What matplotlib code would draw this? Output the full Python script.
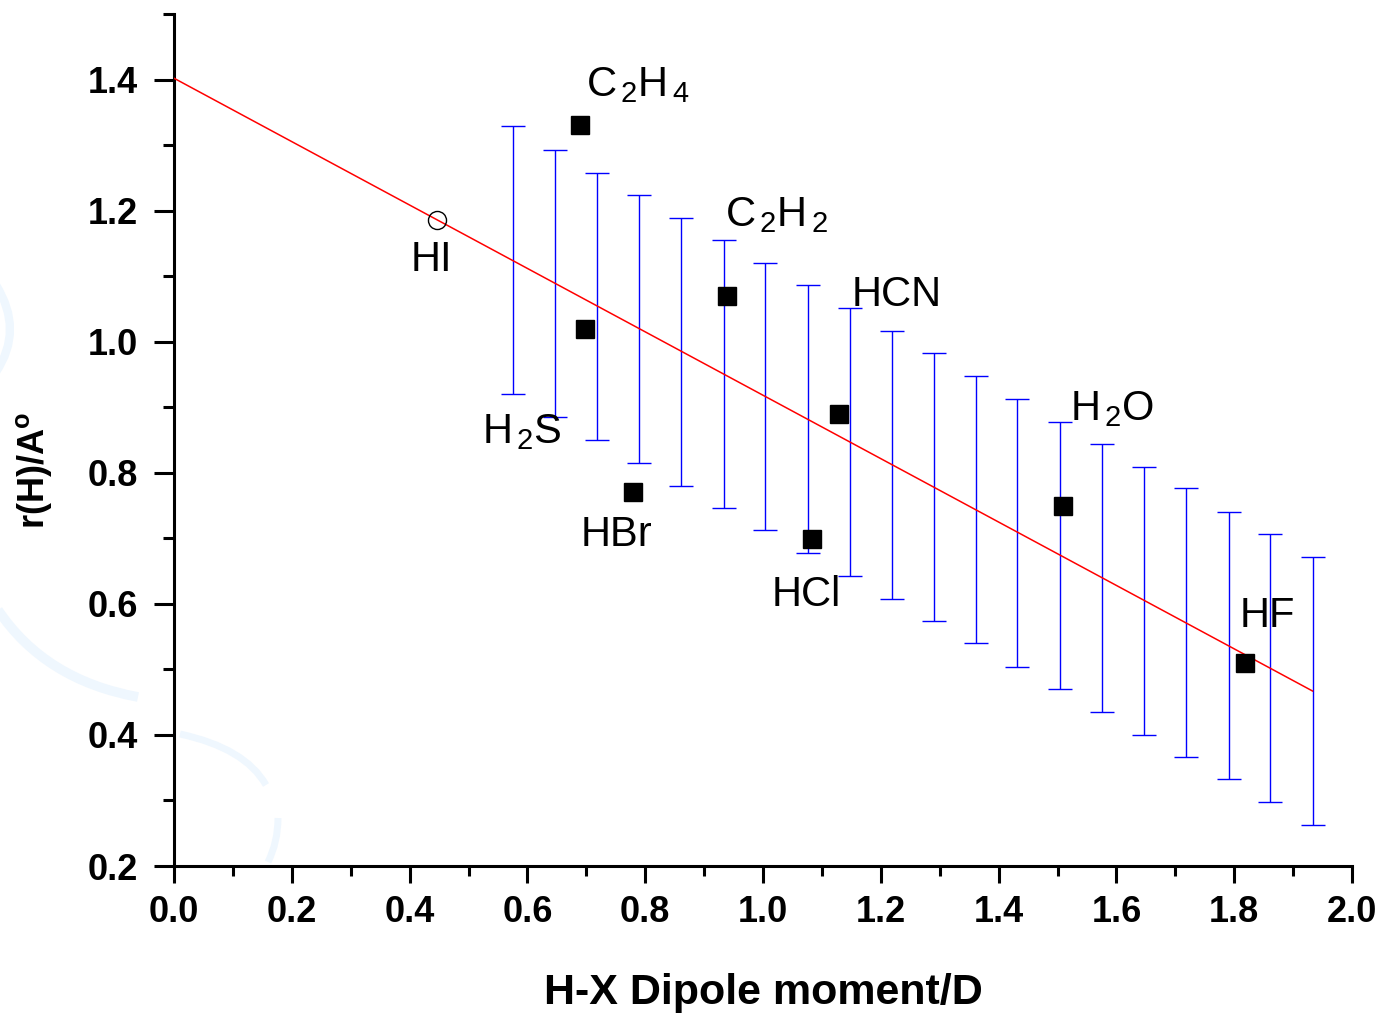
import numpy as np
import matplotlib
matplotlib.use('Agg')
import matplotlib.pyplot as plt
from matplotlib.path import Path
from matplotlib.patches import PathPatch
from matplotlib.ticker import MultipleLocator, FormatStrFormatter

plt.rcParams['font.family'] = ['Liberation Sans', 'DejaVu Sans']
plt.rcParams['mathtext.fontset'] = 'custom'
plt.rcParams['mathtext.rm'] = 'Liberation Sans'
plt.rcParams['mathtext.it'] = 'Liberation Sans:italic'
plt.rcParams['mathtext.bf'] = 'Liberation Sans:bold'

# ---------------- data ----------------
band_x = [0.575, 0.647, 0.719, 0.790, 0.861, 0.933, 1.004, 1.076, 1.147, 1.219,
          1.291, 1.362, 1.432, 1.504, 1.575, 1.647, 1.718, 1.791, 1.861, 1.933]
band_upper = [1.329, 1.293, 1.258, 1.224, 1.189, 1.155, 1.120, 1.087, 1.051, 1.017,
              0.983, 0.947, 0.913, 0.878, 0.844, 0.809, 0.776, 0.740, 0.706, 0.672]
band_lower = [0.920, 0.885, 0.850, 0.815, 0.780, 0.746, 0.712, 0.678, 0.642, 0.608,
              0.574, 0.540, 0.504, 0.470, 0.435, 0.400, 0.366, 0.332, 0.297, 0.263]

fit_x = [0.0, 1.933]
fit_y = [1.402, 0.467]

mol_names = [r'C$_{\,2}$H$_{\,4}$', r'H$_{\,2}$S', 'HBr', r'C$_{\,2}$H$_{\,2}$',
             'HCl', 'HCN', r'H$_{\,2}$O', 'HF']
mol_x = [0.689, 0.697, 0.779, 0.939, 1.083, 1.129, 1.509, 1.819]
mol_y = [1.330, 1.019, 0.770, 1.069, 0.699, 0.889, 0.750, 0.509]

hi_name = 'HI'
hi_x = [0.4465]
hi_y = [1.185]

x_label = 'H-X Dipole moment/D'
y_label = r'r(H)/A$^{\mathbf{o}}$'

# label anchor positions (left, baseline) in data coords
mol_label_pos = [(0.700, 1.374), (0.523, 0.846), (0.691, 0.689), (0.936, 1.176),
                 (1.015, 0.596), (1.151, 1.055), (1.521, 0.880), (1.810, 0.564)]
hi_label_pos = (0.401, 1.1085)

# ---------------- figure ----------------
W, H = 1384, 1015
fig = plt.figure(figsize=(W / 100, H / 100), dpi=100)
fig.patch.set_facecolor('white')

# faint background watermark arcs (pixel coords, y down)
def arc(p0, c, p1, lw):
    pts = [(p0[0] / W, 1 - p0[1] / H), (c[0] / W, 1 - c[1] / H), (p1[0] / W, 1 - p1[1] / H)]
    path = Path(pts, [Path.MOVETO, Path.CURVE3, Path.CURVE3])
    patch = PathPatch(path, transform=fig.transFigure, facecolor='none',
                      edgecolor='#EFF7FE', lw=lw, capstyle='butt', zorder=0)
    fig.add_artist(patch)

arc((-4, 285), (24, 330), (-4, 372), 6)
arc((-2, 610), (45, 680), (138, 697), 7)
arc((180, 734), (245, 748), (266, 785), 5)
arc((278, 818), (278, 842), (268, 862), 5)

ax = fig.add_axes([174 / W, (H - 866) / H, 1178 / W, 852 / H])
ax.set_facecolor('none')
ax.set_xlim(0, 2.0)
ax.set_ylim(0.2, 1.5)

for s in ['top', 'right']:
    ax.spines[s].set_visible(False)
for s in ['left', 'bottom']:
    ax.spines[s].set_linewidth(2.2)

ax.xaxis.set_major_locator(MultipleLocator(0.2))
ax.xaxis.set_minor_locator(MultipleLocator(0.1))
ax.yaxis.set_major_locator(MultipleLocator(0.2))
ax.yaxis.set_minor_locator(MultipleLocator(0.1))
ax.xaxis.set_major_formatter(FormatStrFormatter('%.1f'))
ax.yaxis.set_major_formatter(FormatStrFormatter('%.1f'))

ax.tick_params(axis='x', which='major', direction='out', length=12.2, width=2.2,
               labelsize=26, pad=9.0)
ax.tick_params(axis='x', which='minor', direction='out', length=7.2, width=2.2)
ax.tick_params(axis='y', which='major', direction='out', length=14.4, width=2.2,
               labelsize=26, pad=11.5)
ax.tick_params(axis='y', which='minor', direction='out', length=8.0, width=2.2)
for lab in ax.get_xticklabels() + ax.get_yticklabels():
    lab.set_fontweight('bold')

# error band bars
bx = np.array(band_x)
bu = np.array(band_upper)
bl = np.array(band_lower)
ax.errorbar(bx, (bu + bl) / 2, yerr=(bu - bl) / 2, fmt='none', ecolor='#0000FF',
            elinewidth=1.0, capsize=8.3, capthick=1.0, zorder=2)

# fit line
ax.plot(fit_x, fit_y, color='#FF0000', lw=1.1, zorder=3)

# points
ax.plot(mol_x, mol_y, 's', color='black', ms=13.5, ls='none', zorder=4)
ax.plot(hi_x, hi_y, 'o', mfc='none', mec='black', mew=1.0, ms=13, ls='none', zorder=4)

# labels
for name, (lx, ly) in zip(mol_names, mol_label_pos):
    ax.text(lx, ly, name, fontsize=30, ha='left', va='baseline', zorder=5)
ax.text(hi_label_pos[0], hi_label_pos[1], hi_name, fontsize=30, ha='left',
        va='baseline', zorder=5)

ax.set_xlabel(x_label, fontsize=31, fontweight='bold')
ax.xaxis.label.set_va('center')
ax.xaxis.set_label_coords(0.5, (866 - 993) / 852)
ax.set_ylabel(y_label, fontsize=26, fontweight='bold')
ax.yaxis.label.set_va('center')
ax.yaxis.label.set_ha('center')
ax.yaxis.set_label_coords((34 - 174) / 1178, (866 - 470) / 852)

fig.savefig('out.png', dpi=100)
